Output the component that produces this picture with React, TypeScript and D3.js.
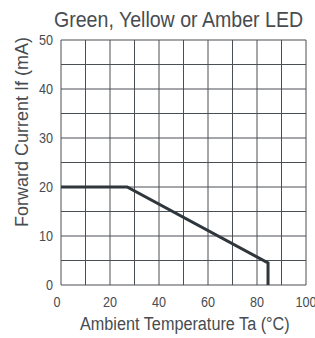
import * as d3 from "d3";

// derating curve: Ta (°C) vs forward current (mA)
const curveTemps = [0, 27, 84.5, 84.5];
const curveCurrents = [20, 20, 4.5, 0];

const xTicks = [0, 20, 40, 60, 80, 100];
const yTicks = [0, 10, 20, 30, 40, 50];

const title = "Green, Yellow or Amber LED";
const xTitle = "Ambient Temperature Ta (°C)";
const yTitle = "Forward Current If (mA)";

const W = 315;
const H = 338;
const margin = { top: 40, right: 9, bottom: 53, left: 61 };
const font = "'Liberation Sans', Arial, sans-serif";
const narrow = 0.84; // squeeze glyphs to mimic a condensed face
const textColor = "#474c51";

export default function App() {
  const width = W - margin.left - margin.right;
  const height = H - margin.top - margin.bottom;

  const x = d3.scaleLinear().domain([0, 100]).range([0, width]);
  const y = d3.scaleLinear().domain([0, 50]).range([height, 0]);

  const points = curveTemps.map((t, i) => [t, curveCurrents[i]] as [number, number]);
  const line = d3
    .line<[number, number]>()
    .x((d) => x(d[0]))
    .y((d) => y(d[1]));

  const gridX = d3.range(0, 101, 10);
  const gridY = d3.range(0, 51, 5);

  return (
    <svg
      width={W}
      height={H}
      style={{ position: "absolute", left: 0, top: 0, background: "#fff" }}
      fontFamily={font}
    >
      <g transform="translate(54,27) scale(0.89,1)">
        <text fontSize={22} fill={textColor}>
          {title}
        </text>
      </g>
      <g transform="translate(80,330) scale(0.855,1)">
        <text fontSize={19} fill={textColor}>
          {xTitle}
        </text>
      </g>
      <g transform="translate(28,227) rotate(-90)">
        <text fontSize={18} fill={textColor}>
          {yTitle}
        </text>
      </g>
      <g transform={`translate(${margin.left},${margin.top})`}>
        {gridX.map((v) => (
          <line key={"gx" + v} x1={x(v)} x2={x(v)} y1={0} y2={height} stroke="#4a4f54" strokeWidth={1} />
        ))}
        {gridY.map((v) => (
          <line key={"gy" + v} x1={0} x2={width} y1={y(v)} y2={y(v)} stroke="#4a4f54" strokeWidth={1} />
        ))}
        <path d={line(points) || ""} fill="none" stroke="#2f363c" strokeWidth={3} />
        {yTicks.map((v) => (
          <g key={"yt" + v} transform={`translate(-8,${y(v)}) scale(${narrow},1)`}>
            <text dy="0.35em" textAnchor="end" fontSize={15} fill={textColor}>
              {v}
            </text>
          </g>
        ))}
        {xTicks.map((v) => (
          <g key={"xt" + v} transform={`translate(${x(v) + (v === 0 ? -4 : 0)},${height + 17}) scale(${narrow},1)`}>
            <text dy="0.35em" textAnchor="middle" fontSize={15} fill={textColor}>
              {v}
            </text>
          </g>
        ))}
      </g>
    </svg>
  );
}
